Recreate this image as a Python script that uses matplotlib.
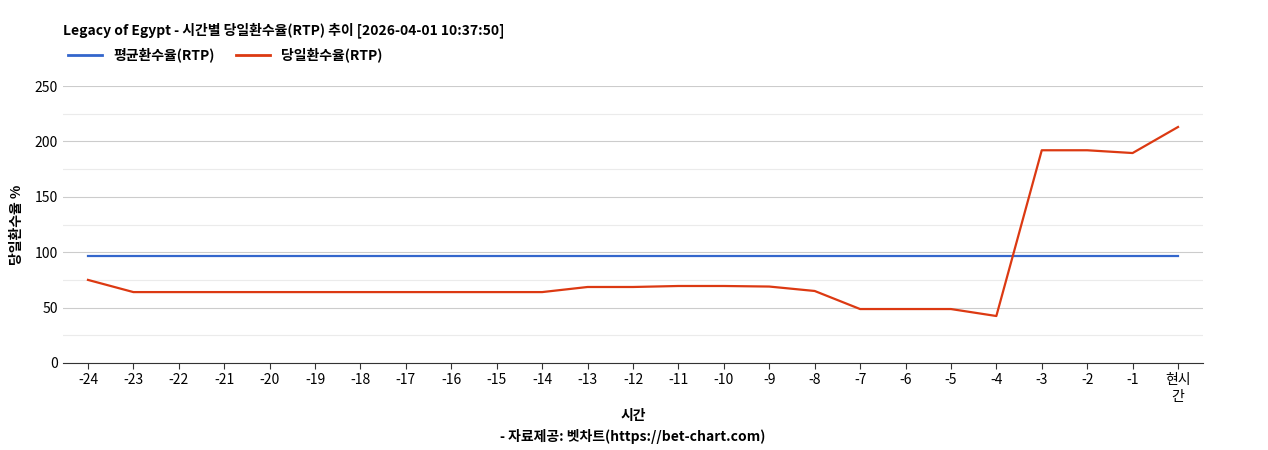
import matplotlib.pyplot as plt
from matplotlib.lines import Line2D

plt.rcParams['font.family'] = ['Noto Sans CJK KR', 'DejaVu Sans']

# chart values
hours = ['-24', '-23', '-22', '-21', '-20', '-19', '-18', '-17', '-16', '-15', '-14', '-13',
         '-12', '-11', '-10', '-9', '-8', '-7', '-6', '-5', '-4', '-3', '-2', '-1', '현시\n간']
avg_rtp = [96.6] * len(hours)
day_rtp = [75, 64, 64, 64, 64, 64, 64, 64, 64, 64, 64, 68.6,
           68.6, 69.5, 69.5, 69, 65, 48.7, 48.7, 48.7, 42.4, 192, 192, 189.5, 213]

fig = plt.figure(figsize=(12.68, 4.5), dpi=100)
ax = fig.add_axes([63 / 1268, 1 - 363 / 450, 1140 / 1268, 277 / 450])

x = range(len(hours))
ax.plot(x, avg_rtp, color='#3366cc', lw=1.6)
ax.plot(x, day_rtp, color='#dc3912', lw=1.6)

ax.set_xlim(-0.55, len(hours) - 0.45)
ax.set_ylim(0, 250)
ax.set_xticks(list(x))
ax.set_xticklabels(hours, fontsize=10)
ax.set_yticks(range(0, 251, 50))
ax.set_yticks(range(25, 250, 50), minor=True)
ax.tick_params(axis='y', which='both', length=0, labelsize=10)
ax.tick_params(axis='x', length=4, color='#333333')
ax.grid(axis='y', which='major', color='#cccccc', lw=0.8)
ax.grid(axis='y', which='minor', color='#ebebeb', lw=0.8)
ax.set_axisbelow(True)
for s in ['top', 'right', 'left']:
    ax.spines[s].set_visible(False)
ax.spines['bottom'].set_color('#333333')

ax.set_ylabel('당일환수율 %', fontsize=10, fontweight='bold', labelpad=8)
ax.set_xlabel('시간', fontsize=10, fontweight='bold', labelpad=4)

fig.text(63 / 1268, 1 - 30 / 450, 'Legacy of Egypt - 시간별 당일환수율(RTP) 추이 [2026-04-01 10:37:50]',
         fontsize=10, fontweight='bold', va='center')
fig.text(633 / 1268, 1 - 437 / 450, '- 자료제공: 벳차트(https://bet-chart.com)',
         fontsize=10, fontweight='bold', ha='center', va='center')

handles = [Line2D([], [], color='#3366cc', lw=2), Line2D([], [], color='#dc3912', lw=2)]
fig.legend(handles, ['평균환수율(RTP)', '당일환수율(RTP)'], loc='center left',
           bbox_to_anchor=(55 / 1268, 1 - 55 / 450), ncol=2, frameon=False,
           prop={'weight': 'bold', 'size': 10}, handlelength=2.5, columnspacing=1.5)

fig.savefig('out.png', dpi=100)
